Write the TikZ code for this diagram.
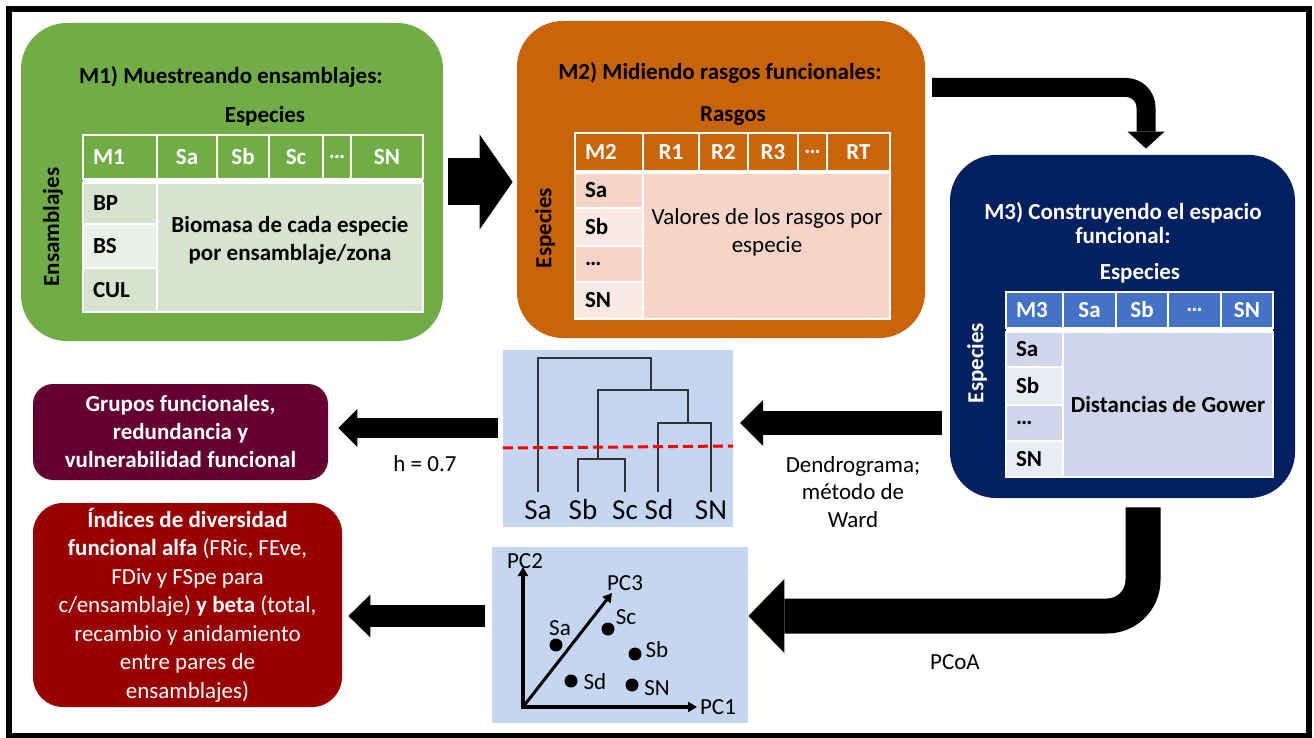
\documentclass[tikz,border=0pt]{standalone}
\usepackage{fontspec}
\setmainfont{Carlito}
\usetikzlibrary{arrows.meta}

\definecolor{verde}{RGB}{112,173,71}
\definecolor{verdeA}{RGB}{213,227,207}
\definecolor{verdeB}{RGB}{235,241,233}
\definecolor{naranja}{RGB}{200,100,10}
\definecolor{naranjaA}{RGB}{246,212,199}
\definecolor{naranjaB}{RGB}{251,233,228}
\definecolor{marino}{RGB}{0,32,96}
\definecolor{azul}{RGB}{68,114,196}
\definecolor{azulA}{RGB}{207,213,234}
\definecolor{azulB}{RGB}{233,235,245}
\definecolor{panel}{RGB}{197,214,240}
\definecolor{granate}{RGB}{99,0,49}
\definecolor{rojo}{RGB}{153,0,0}
\newcommand{\tam}{\fontsize{11.5}{14}\selectfont}

\begin{document}
\begin{tikzpicture}[x=0.5pt, y=-0.5pt,
		every node/.style = {inner sep=0pt, font=\tam},
		etapa/.style = {rounded corners=23pt},
		negrita/.style = {font=\tam\bfseries},
		celda/.style 2 args = {draw=white, line width=0.75pt, minimum width=#1,
			minimum height=#2, font=\tam\bfseries},
		izq/.style 2 args = {draw=white, line width=0.75pt, text width=#1,
			minimum height=#2, inner xsep=5pt, align=left, font=\tam\bfseries},
		enc/.style = {fill=#1, text=white},
		rama/.style = {line width=1pt, draw=black!80},
		hoja/.style = {font=\fontsize{14.5}{16}\selectfont},
		punto/.style = {circle, fill=black, minimum size=6.5pt}]
	
	\useasboundingbox (0,0) rectangle (1314,738);
	\draw[line width=3pt] (9,9) rectangle (1308.5,735.5);
	
	\node[etapa, fill=verde, minimum width=211pt, minimum height=159pt] (m1) at (232,182) {};
	\node[negrita] (m1tit) at (231,77) {M1) Muestreando ensamblajes:};
	\node[negrita] (m1col) at (265,116) {Especies};
	\node[negrita, rotate=90] (m1fil) at (53,227) {Ensamblajes};
	\fill[white] (83,135) rectangle (423,312);
	\node[izq={27pt}{22pt}, enc=verde] (m1h0) at (120,157) {M1};
	\node[celda={30pt}{22pt}, enc=verde] (m1h1) at (187,157) {Sa};
	\node[celda={26pt}{22pt}, enc=verde] (m1h2) at (243,157) {Sb};
	\node[celda={27pt}{22pt}, enc=verde] (m1h3) at (296,157) {Sc};
	\node[celda={14pt}{22pt}, enc=verde] (m1h4) at (337,157) {…};
	\node[celda={36pt}{22pt}, enc=verde] (m1h5) at (387,157) {SN};
	\node[izq={27pt}{20.5pt}, fill=verdeA] (m1f1) at (120,203.5) {BP};
	\node[izq={27pt}{22pt}, fill=verdeB] (m1f2) at (120,246) {BS};
	\node[izq={27pt}{22pt}, fill=verdeA] (m1f3) at (120,290) {CUL};
	\node[celda={133pt}{64.5pt}, fill=verdeA] (m1c) at (290,247.5) {};
	\node[negrita, align=center] (m1txt) at (290,240) {Biomasa de cada especie\\por ensamblaje/zona};
	
	\node[etapa, fill=naranja, minimum width=204pt, minimum height=158.5pt] (m2) at (721,179.5) {};
	\node[negrita] (m2tit) at (720,73) {M2) Midiendo rasgos funcionales:};
	\node[negrita] (m2col) at (733,116) {Rasgos};
	\node[negrita, rotate=90] (m2fil) at (545,228) {Especies};
	\fill[white] (575,133) rectangle (890,319);
	\node[izq={24pt}{19pt}, enc=naranja] (m2h0) at (609,152) {M2};
	\node[celda={28pt}{19pt}, enc=naranja] (m2h1) at (671,152) {R1};
	\node[celda={24.5pt}{19pt}, enc=naranja] (m2h2) at (723.5,152) {R2};
	\node[celda={25pt}{19pt}, enc=naranja] (m2h3) at (773,152) {R3};
	\node[celda={14.5pt}{19pt}, enc=naranja] (m2h4) at (812.5,152) {…};
	\node[celda={31.5pt}{19pt}, enc=naranja] (m2h5) at (858.5,152) {RT};
	\node[izq={24pt}{17.5pt}, fill=naranjaA] (m2f1) at (609,190.5) {Sa};
	\node[izq={24pt}{19pt}, fill=naranjaB] (m2f2) at (609,227) {Sb};
	\node[izq={24pt}{18pt}, fill=naranjaA] (m2f3) at (609,264) {…};
	\node[izq={24pt}{18.5pt}, fill=naranjaB] (m2f4) at (609,300.5) {SN};
	\node[celda={123.5pt}{73pt}, fill=naranjaA] (m2c) at (766.5,246) {};
	\node[align=center] (m2txt) at (767,232) {Valores de los rasgos por\\especie};
	
	\node[etapa, fill=marino, minimum width=172.5pt, minimum height=171.5pt] (m3) at (1122.5,326.5) {};
	\node[text=white, align=center, font=\fontsize{11.5}{11.7}\selectfont\bfseries] (m3tit) at (1123,223) {M3) Construyendo el espacio\\funcional:};
	\node[negrita, text=white] (m3col) at (1140,273) {Especies};
	\node[negrita, text=white, rotate=90] (m3fil) at (977,363) {Especies};
	\fill[white] (1006,292) rectangle (1273,477);
	\node[izq={18.5pt}{18pt}, enc=azul] (m3h0) at (1034.5,310) {M3};
	\node[celda={26.5pt}{18pt}, enc=azul] (m3h1) at (1089.5,310) {Sa};
	\node[celda={26pt}{18pt}, enc=azul] (m3h2) at (1142,310) {Sb};
	\node[celda={26.5pt}{18pt}, enc=azul] (m3h3) at (1194.5,310) {…};
	\node[celda={26pt}{18pt}, enc=azul] (m3h4) at (1247,310) {SN};
	\node[izq={18.5pt}{17.5pt}, fill=azulA] (m3f1) at (1034.5,349.5) {Sa};
	\node[izq={18.5pt}{19pt}, fill=azulB] (m3f2) at (1034.5,386) {Sb};
	\node[izq={18.5pt}{18pt}, fill=azulA] (m3f3) at (1034.5,423) {…};
	\node[izq={18.5pt}{18pt}, fill=azulB] (m3f4) at (1034.5,459) {SN};
	\node[celda={105pt}{72.5pt}, fill=azulA] (m3c) at (1168,404.5) {Distancias de Gower};
	
	\node[fill=panel, minimum width=115pt, minimum height=88.5pt] (dendro) at (618,438.5) {};
	\draw[rama] (538,492) |- (651,358) -- (651,390);
	\draw[rama] (598,459) |- (688,390) -- (688,423);
	\draw[rama] (578,492) |- (625,459) -- (625,492);
	\draw[rama] (658,492) |- (711,423) -- (711,492);
	\draw[red, dashed, line width=1.5pt, dash pattern=on 5pt off 2.5pt] (503,448) -- (733,446);
	\node[hoja] (dSa) at (538,510) {Sa};
	\node[hoja] (dSb) at (583,510) {Sb};
	\node[hoja] (dSc) at (625,510) {Sc};
	\node[hoja] (dSd) at (659,510) {Sd};
	\node[hoja] (dSN) at (711,510) {SN};
	
	\node[fill=panel, minimum width=128pt, minimum height=88pt] (pcoa) at (620,635) {};
	\coordinate (o) at (523,707);
	\draw[line width=2pt, {Triangle[length=4.5pt,width=5pt]}-{Triangle[length=4.5pt,width=5pt]}] (523,567) -- (o) -- (697,707);
	\draw[line width=1.5pt, -{Triangle[length=4.5pt,width=5pt]}] (o) -- (612,593);
	\node (pc2) at (525,561) {PC2};
	\node (pc3) at (625,583) {PC3};
	\node (pc1) at (718,707) {PC1};
	\node[punto] (pSa) at (556,645) {};
	\node[punto] (pSc) at (608,629) {};
	\node[punto] (pSb) at (635,654) {};
	\node[punto] (pSd) at (571,681) {};
	\node[punto] (pSN) at (632,685) {};
	\node (lSa) at (560,628) {Sa};
	\node (lSc) at (626,617) {Sc};
	\node (lSb) at (657,650) {Sb};
	\node (lSd) at (595,682) {Sd};
	\node (lSN) at (657,688) {SN};
	
	\node[fill=granate, rounded corners=10pt, minimum width=147.5pt, minimum height=48pt,
		text=white, align=center, negrita] (grupos) at (180.5,432) {Grupos funcionales,\\redundancia y\\vulnerabilidad funcional};
	\node[fill=rojo, rounded corners=15pt, minimum width=154.5pt, minimum height=102pt,
		text=white, align=center, font=\fontsize{11.5}{14.25}\selectfont] (indices) at (187.5,605) {\textbf{Índices de diversidad}\\\textbf{funcional alfa} (FRic, FEve,\\FDiv y FSpe para\\c/ensamblaje) \textbf{y beta} (total,\\recambio y anidamiento\\entre pares de\\ensamblajes)};
	
	\coordinate (c1) at (932,87.5);
	\coordinate (c2) at (740,423);
	\coordinate (c3) at ([xshift=5pt,yshift=2pt]grupos.east);
	\coordinate (c4) at ([xshift=3pt,yshift=-5.5pt]indices.east);
	\draw[line width=23.5pt, -{Triangle[length=16.5pt,width=47.5pt,line width=0pt]}] ([xshift=2.5pt]m1.east) -- ([xshift=-2pt]m2.west |- m1.east);
	\draw[line width=9.5pt, rounded corners=10pt, -{Triangle[length=8.5pt,width=18.5pt,line width=0pt]}] (c1) -| ([xshift=11.75pt,yshift=3pt]m3.north);
	\draw[line width=17.5pt, rounded corners=18pt, -{Triangle[length=18pt,width=37pt,line width=0pt]}] ([xshift=10.25pt,yshift=-4.5pt]m3.south) |- ([yshift=9.5pt]pcoa.east);
	\draw[line width=12pt, -{Triangle[length=11.5pt,width=23pt,line width=0pt]}] ([xshift=-4pt]m3.west |- c2) -- (c2);
	\draw[line width=10pt, -{Triangle[length=9.5pt,width=19pt,line width=0pt]}] ([xshift=-2.5pt]dendro.west |- c3) -- (c3);
	\draw[line width=11pt, -{Triangle[length=11pt,width=21.5pt,line width=0pt]}] ([xshift=-3.5pt]pcoa.west |- c4) -- (c4);
	\node (hcorte) at (425,464) {h = 0.7};
	\node[align=center, font=\fontsize{11.5}{13.75}\selectfont] (ward) at (853,492) {Dendrograma;\\método de\\Ward};
	\node (pcoalab) at (955,662) {PCoA};
\end{tikzpicture}
\end{document}
